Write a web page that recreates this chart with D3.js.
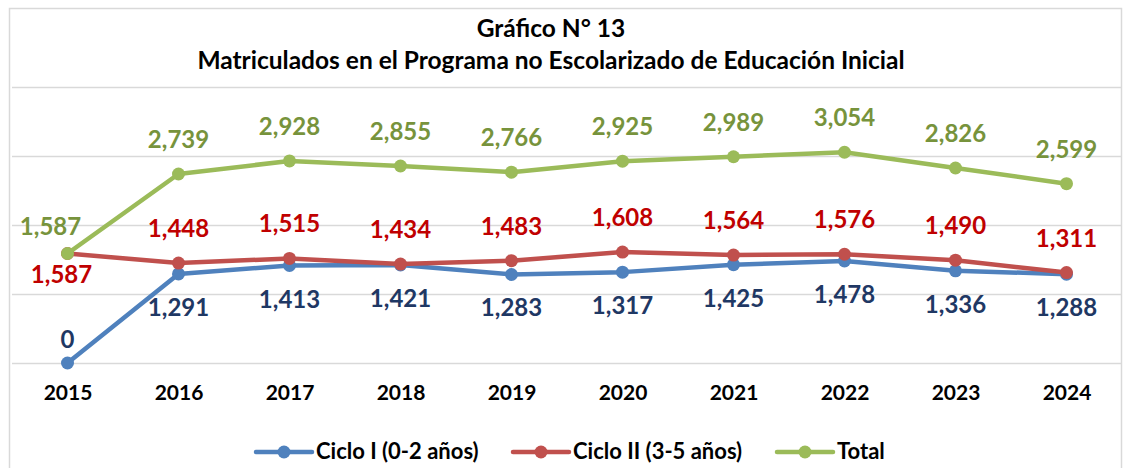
<!DOCTYPE html>
<html>
<head>
<meta charset="utf-8">
<script src="https://cdn.jsdelivr.net/npm/d3@7"></script>
<style>
  body { margin: 0; background: #fff; }
  text { font-family: Lato, "Open Sans", sans-serif; font-weight: bold; }
</style>
</head>
<body>
<script>
const years = ["2015", "2016", "2017", "2018", "2019", "2020", "2021", "2022", "2023", "2024"];
const cicloI = [0, 1291, 1413, 1421, 1283, 1317, 1425, 1478, 1336, 1288];
const cicloII = [1587, 1448, 1515, 1434, 1483, 1608, 1564, 1576, 1490, 1311];
const total = [1587, 2739, 2928, 2855, 2766, 2925, 2989, 3054, 2826, 2599];
const yTicks = [0, 1000, 2000, 3000, 4000];
const titleLines = ["Gráfico N° 13", "Matriculados en el Programa no Escolarizado de Educación Inicial"];

const series = [
  {name: "Ciclo I (0-2 años)", values: cicloI, line: "#4F81BD", label: "#1F3864", dy: 42, first: {dx: 0, dy: -15}},
  {name: "Ciclo II (3-5 años)", values: cicloII, line: "#C0504D", label: "#C00000", dy: -26, first: {dx: -6, dy: 30}},
  {name: "Total", values: total, line: "#9BBB59", label: "#77933C", dy: -26, first: {dx: -17, dy: -18}}
];

const width = 1125, height = 468;
const plot = {left: 12, right: 1122, top: 87, bottom: 363};

const svg = d3.select("body").append("svg")
  .attr("width", width)
  .attr("height", height);

// chart frame
svg.append("rect")
  .attr("x", 9.5).attr("y", 8.5)
  .attr("width", 1112).attr("height", 470)
  .attr("fill", "none")
  .attr("stroke", "#d9d9d9")
  .attr("stroke-width", 1.5);

svg.selectAll(".title")
  .data(titleLines)
  .enter()
  .append("text")
  .attr("x", 551)
  .attr("y", (d, i) => i == 0 ? 37 : 69)
  .attr("text-anchor", "middle")
  .attr("font-size", 24.5)
  .attr("fill", "#000")
  .text(d => d);

const xscale = d3.scalePoint()
  .domain(years)
  .range([plot.left, plot.right])
  .padding(0.5);

const yscale = d3.scaleLinear()
  .domain([0, 4000])
  .range([plot.bottom, plot.top]);

// gridlines
const grid = svg.append("g")
  .attr("transform", `translate(${plot.left}, 0)`)
  .call(d3.axisLeft(yscale).tickValues(yTicks).tickSize(-(plot.right - plot.left)).tickFormat(""));
grid.select(".domain").remove();
grid.selectAll("line").attr("stroke", "#d9d9d9").attr("stroke-width", 1.5);

const xaxis = svg.append("g")
  .attr("transform", `translate(0, ${plot.bottom})`)
  .call(d3.axisBottom(xscale).tickSize(0).tickPadding(22));
xaxis.select(".domain").remove();
xaxis.selectAll("text")
  .attr("font-size", 21)
  .attr("font-family", "Lato, sans-serif")
  .attr("font-weight", "bold")
  .attr("fill", "#000");

const line = d3.line()
  .x((d, i) => xscale(years[i]))
  .y(d => yscale(d));

series.forEach(s => {
  const g = svg.append("g");
  g.append("path")
    .datum(s.values)
    .attr("d", line)
    .attr("fill", "none")
    .attr("stroke", s.line)
    .attr("stroke-width", 4.5)
    .attr("stroke-linejoin", "round");
  g.selectAll("circle")
    .data(s.values)
    .enter()
    .append("circle")
    .attr("cx", (d, i) => xscale(years[i]))
    .attr("cy", d => yscale(d))
    .attr("r", 6.5)
    .attr("fill", s.line);
});

series.forEach(s => {
  svg.append("g").selectAll("text")
    .data(s.values)
    .enter()
    .append("text")
    .attr("x", (d, i) => xscale(years[i]) + (i == 0 ? s.first.dx : 0))
    .attr("y", (d, i) => yscale(d) + (i == 0 ? s.first.dy : s.dy))
    .attr("text-anchor", "middle")
    .attr("font-size", 24)
    .attr("fill", s.label)
    .text(d => d3.format(",")(d));
});

// legend
const legendX = [256, 513, 777];
const legend = svg.selectAll(".legend")
  .data(series)
  .enter()
  .append("g")
  .attr("transform", (d, i) => `translate(${legendX[i]}, 452)`);
legend.append("line")
  .attr("x1", 0).attr("x2", 56)
  .attr("stroke", d => d.line)
  .attr("stroke-width", 4.5)
  .attr("stroke-linecap", "round");
legend.append("circle")
  .attr("cx", 28)
  .attr("r", 6.5)
  .attr("fill", d => d.line);
legend.append("text")
  .attr("x", 60)
  .attr("y", 7)
  .attr("font-size", 22)
  .attr("fill", "#000")
  .text(d => d.name);
</script>
</body>
</html>
